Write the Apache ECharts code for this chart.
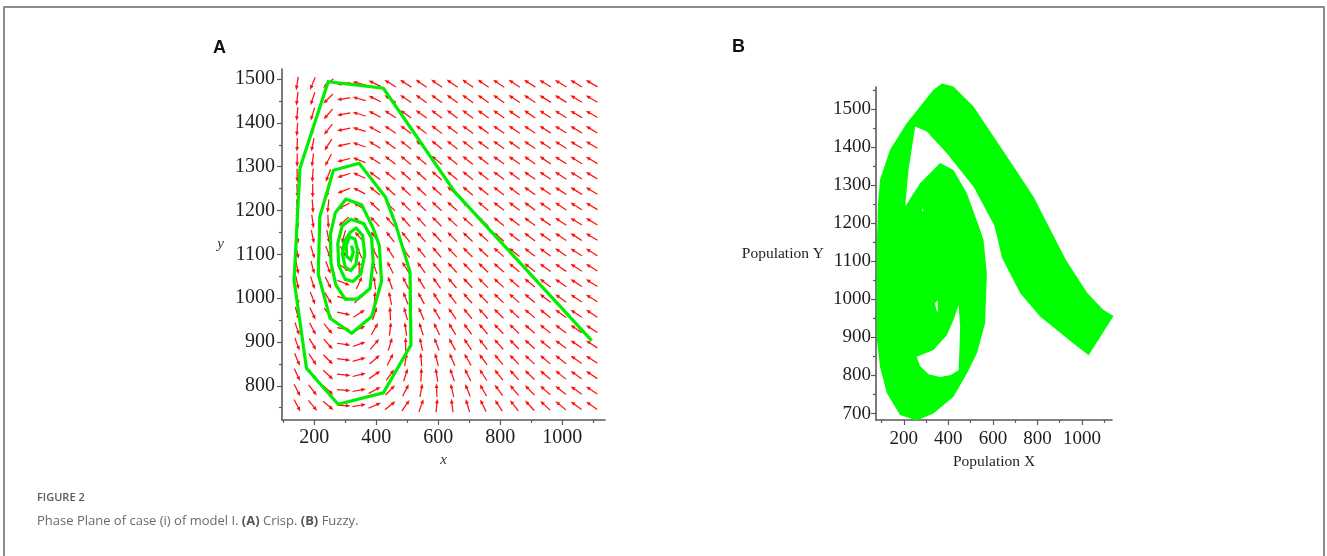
<!DOCTYPE html>
<html>
<head>
<meta charset="utf-8">
<script src="https://cdn.jsdelivr.net/npm/echarts@6/dist/echarts.min.js"></script>
<style>
  html, body { margin: 0; padding: 0; background: #ffffff; }
  #chart { width: 1327px; height: 556px; }
</style>
</head>
<body>
<div id="chart"></div>
<script>
// ---- Panel A (crisp): direction-field grid ----
const fieldX = [145, 195, 245, 295, 345, 395, 445, 495, 545, 595, 645, 695, 745, 795, 845, 895, 945, 995, 1045, 1095];
const fieldY = [1490, 1455, 1420, 1385, 1350, 1315, 1280, 1245, 1210, 1175, 1140, 1105, 1070, 1035, 1000, 965, 930, 895, 860, 825, 790, 755];
// arrow heading on screen, degrees counter-clockwise from +x; one row per fieldY value
const fieldAngles = [
  [261, 248, 222, 188, 166, 155, 149, 147, 145, 145, 145, 145, 145, 146, 146, 147, 148, 148, 149, 150],
  [263, 251, 225, 189, 165, 154, 148, 146, 144, 144, 144, 144, 145, 145, 146, 147, 148, 148, 149, 150],
  [264, 253, 229, 190, 164, 152, 147, 145, 144, 143, 143, 143, 144, 145, 146, 146, 147, 148, 149, 150],
  [266, 256, 232, 191, 163, 151, 146, 143, 142, 142, 143, 143, 144, 145, 145, 146, 147, 148, 149, 149],
  [268, 259, 237, 192, 161, 149, 144, 142, 141, 141, 142, 142, 143, 144, 145, 146, 147, 147, 149, 149],
  [269, 263, 242, 194, 159, 147, 142, 140, 140, 140, 141, 141, 142, 144, 145, 145, 146, 147, 148, 149],
  [271, 266, 249, 197, 156, 144, 140, 139, 139, 139, 140, 141, 142, 143, 144, 145, 146, 147, 148, 149],
  [273, 270, 256, 201, 153, 141, 138, 137, 137, 138, 139, 140, 141, 143, 144, 145, 146, 147, 148, 149],
  [275, 274, 264, 208, 148, 137, 135, 135, 135, 137, 138, 139, 140, 142, 143, 144, 145, 146, 148, 149],
  [278, 278, 273, 222, 141, 133, 131, 132, 133, 135, 137, 138, 139, 141, 143, 144, 145, 146, 148, 149],
  [280, 282, 282, 254, 131, 127, 127, 129, 131, 133, 135, 137, 138, 140, 142, 143, 145, 146, 147, 149],
  [283, 287, 291, 300, 114, 119, 123, 126, 129, 131, 133, 135, 137, 139, 141, 142, 144, 145, 147, 148],
  [281, 285, 291, 327, 90, 110, 117, 122, 126, 129, 132, 134, 136, 139, 140, 142, 144, 145, 147, 148],
  [282, 288, 297, 338, 65, 98, 110, 117, 122, 126, 130, 133, 135, 138, 139, 141, 143, 145, 147, 148],
  [284, 291, 302, 344, 46, 86, 102, 112, 118, 123, 127, 131, 134, 136, 139, 140, 143, 144, 146, 148],
  [286, 295, 306, 348, 33, 72, 93, 105, 113, 120, 125, 129, 132, 135, 138, 140, 142, 144, 146, 147],
  [289, 297, 309, 350, 25, 60, 83, 98, 108, 116, 121, 126, 130, 134, 136, 139, 141, 143, 146, 147],
  [291, 300, 312, 352, 20, 49, 73, 90, 102, 111, 118, 124, 128, 132, 135, 138, 141, 143, 145, 147],
  [293, 303, 315, 353, 16, 41, 63, 81, 95, 105, 114, 120, 126, 130, 134, 137, 140, 142, 145, 147],
  [295, 306, 317, 354, 14, 34, 54, 72, 87, 99, 109, 117, 123, 128, 132, 136, 139, 141, 144, 146],
  [297, 308, 319, 355, 11, 28, 46, 63, 79, 92, 103, 112, 120, 126, 130, 134, 138, 141, 144, 146],
  [298, 310, 320, 356, 10, 24, 39, 55, 70, 84, 97, 107, 116, 123, 128, 133, 137, 140, 143, 145]
];

// ---- Panel A: crisp trajectory, spiralling in to the equilibrium ----
const crispX = [1095, 654, 423, 245, 154, 135, 175, 277, 423, 512, 509, 462, 430,
  345, 262, 218, 213, 251, 321, 385, 417, 410, 390, 353,
  302, 268, 252, 254, 270, 300, 340, 380, 390, 385, 360,
  318, 290, 276, 279, 300, 325, 350, 363, 356, 335,
  316, 297, 291, 300, 318, 335, 340, 331, 314, 303, 305, 318, 326, 320];
const crispY = [903, 1242, 1479, 1494, 1297, 1041, 840, 758, 784, 893, 1060, 1170, 1230,
  1308, 1292, 1186, 1055, 954, 920, 958, 1038, 1120, 1160, 1213,
  1226, 1195, 1145, 1080, 1030, 998, 998, 1022, 1085, 1137, 1170,
  1180, 1165, 1125, 1075, 1043, 1038, 1055, 1100, 1143, 1160,
  1150, 1130, 1100, 1071, 1063, 1078, 1110, 1135, 1140, 1120, 1095, 1087, 1105, 1120];

// ---- Panel B (fuzzy): envelope of the trajectory band and its gaps ----
const fuzzyOutline = [
  [258, 682], [183, 696], [124, 753], [93, 823], [79, 893], [78, 1000], [79, 1150], [84, 1250], [93, 1314],
  [138, 1393], [213, 1463], [273, 1507], [333, 1551], [371, 1567], [423, 1559], [513, 1507], [603, 1428],
  [693, 1349], [782, 1270], [848, 1195], [929, 1103], [1024, 1017], [1097, 972], [1142, 956],
  [1030, 853], [962, 884], [813, 954], [723, 1016], [640, 1110], [625, 1150], [606, 1195], [513, 1296],
  [393, 1384], [303, 1441], [251, 1454], [221, 1340], [206, 1244], [273, 1305], [363, 1358], [423, 1340],
  [483, 1279], [543, 1182], [558, 1156], [573, 1068], [565, 937], [528, 858], [483, 805], [423, 744], [333, 700]
];
const fuzzyGapLower = [
  [258, 849], [333, 867], [393, 906], [423, 946], [446, 985], [453, 928], [450, 870], [446, 814],
  [411, 801], [363, 796], [311, 803], [273, 825]
];
const fuzzyGapSmall = [[340, 990], [352, 998], [353, 966], [346, 972]];
const fuzzyGapSpeck = [[281, 1232], [286, 1241], [288, 1230]];

// ---- Axis ticks ----
const ticksXMajor = [200, 400, 600, 800, 1000];
const ticksXMinor = [100, 300, 500, 700, 900, 1100];
const ticksAYMajor = [800, 900, 1000, 1100, 1200, 1300, 1400, 1500];
const ticksAYMinor = [750, 850, 950, 1050, 1150, 1250, 1350, 1450];
const ticksBYMajor = [700, 800, 900, 1000, 1100, 1200, 1300, 1400, 1500];
const ticksBYMinor = [750, 850, 950, 1050, 1150, 1250, 1350, 1450, 1550];

const GREEN = '#00ee00';
const FILL_GREEN = '#00ff00';
const RED = '#ff1010';
const AXIS_COLOR = '#5a5a5a';
const SERIF = '"Liberation Serif", "Times New Roman", serif';

const chart = echarts.init(document.getElementById('chart'), null, { renderer: 'canvas' });

function plainNumber(v) { return String(v); }

function majorAxis(grid, min, max, ticks, fontSize, margin, extra) {
  return Object.assign({
    type: 'value', gridIndex: grid, min: min, max: max,
    axisLine: { show: true, onZero: false, lineStyle: { color: AXIS_COLOR, width: 1.6 } },
    axisTick: { show: true, customValues: ticks, length: 5, lineStyle: { color: AXIS_COLOR, width: 1.2 } },
    axisLabel: { show: true, customValues: ticks, margin: margin, color: '#1e1e1e',
      fontFamily: SERIF, fontSize: fontSize, formatter: plainNumber },
    splitLine: { show: false }
  }, extra || {});
}
function minorAxis(grid, min, max, ticks, position) {
  return {
    type: 'value', gridIndex: grid, min: min, max: max, position: position,
    axisLine: { show: false, onZero: false },
    axisTick: { show: true, customValues: ticks, length: 3, lineStyle: { color: AXIS_COLOR, width: 1.2 } },
    axisLabel: { show: false },
    splitLine: { show: false }
  };
}

// arrow data: [x, y, heading]
const arrowData = [];
fieldY.forEach(function (yv, j) {
  fieldX.forEach(function (xv, k) {
    arrowData.push([xv, yv, fieldAngles[j][k]]);
  });
});

const ARROW_LEN = 13.5;
function renderArrow(params, api) {
  const c = api.coord([api.value(0), api.value(1)]);
  const a = api.value(2) * Math.PI / 180;
  const ux = Math.cos(a), uy = -Math.sin(a);
  const h = ARROW_LEN / 2;
  const x0 = c[0] - ux * h, y0 = c[1] - uy * h;
  const x1 = c[0] + ux * h, y1 = c[1] + uy * h;
  const hl = 4.6, hw = 1.9;
  const bx = x1 - ux * hl, by = y1 - uy * hl;
  const px = -uy, py = ux;
  return {
    type: 'group',
    children: [
      { type: 'line', shape: { x1: x0, y1: y0, x2: bx + ux * 1, y2: by + uy * 1 }, style: { stroke: RED, lineWidth: 1.25 } },
      { type: 'polygon', shape: { points: [[x1, y1], [bx + px * hw, by + py * hw], [bx - px * hw, by - py * hw]] },
        style: { fill: RED } }
    ]
  };
}

const fuzzyRings = [fuzzyOutline, fuzzyGapLower, fuzzyGapSmall, fuzzyGapSpeck];
function renderRing(params, api) {
  const ring = fuzzyRings[params.dataIndex];
  return {
    type: 'polygon',
    shape: { points: ring.map(function (p) { return api.coord(p); }) },
    style: { fill: params.dataIndex === 0 ? FILL_GREEN : '#ffffff' }
  };
}

const option = {
  animation: false,
  backgroundColor: '#ffffff',
  grid: [
    { left: 282, top: 69, width: 323, height: 351 },
    { left: 876, top: 87, width: 236, height: 333 }
  ],
  xAxis: [
    majorAxis(0, 96, 1138, ticksXMajor, 20, 8, {
      position: 'bottom', name: 'x', nameLocation: 'middle', nameGap: 30,
      nameTextStyle: { fontFamily: SERIF, fontStyle: 'italic', fontSize: 15, color: '#333' }
    }),
    minorAxis(0, 96, 1138, ticksXMinor, 'bottom'),
    majorAxis(1, 75, 1135, ticksXMajor, 19, 10, {
      position: 'bottom', name: 'Population X', nameLocation: 'middle', nameGap: 28,
      nameTextStyle: { fontFamily: SERIF, fontSize: 15.5, color: '#1e1e1e' }
    }),
    minorAxis(1, 75, 1135, ticksXMinor, 'bottom')
  ],
  yAxis: [
    majorAxis(0, 722, 1523, ticksAYMajor, 20, 7, {
      position: 'left', name: 'y', nameLocation: 'middle', nameGap: 58, nameRotate: 0,
      nameTextStyle: { fontFamily: SERIF, fontStyle: 'italic', fontSize: 15, color: '#333' }
    }),
    minorAxis(0, 722, 1523, ticksAYMinor, 'left'),
    majorAxis(1, 683, 1558, ticksBYMajor, 19, 5, {
      position: 'left', name: 'Population Y', nameLocation: 'middle', nameGap: 52, nameRotate: 0,
      nameTextStyle: { fontFamily: SERIF, fontSize: 15.5, color: '#1e1e1e' }
    }),
    minorAxis(1, 683, 1558, ticksBYMinor, 'left')
  ],
  series: [
    {
      type: 'custom', name: 'direction field', xAxisIndex: 0, yAxisIndex: 0,
      data: arrowData, encode: { x: 0, y: 1 }, renderItem: renderArrow, silent: true, z: 2
    },
    {
      type: 'line', name: 'crisp trajectory', xAxisIndex: 0, yAxisIndex: 0,
      data: crispX.map(function (v, i) { return [v, crispY[i]]; }),
      showSymbol: false, symbol: 'none', silent: true, z: 3,
      lineStyle: { color: GREEN, width: 3.2, join: 'miter' }
    },
    {
      type: 'custom', name: 'fuzzy band', xAxisIndex: 2, yAxisIndex: 2,
      data: fuzzyRings.map(function (r, i) { return [r[0][0], r[0][1], i]; }),
      encode: { x: 0, y: 1 }, renderItem: renderRing, silent: true, z: 2, clip: false
    }
  ],
  graphic: [
    { type: 'rect', shape: { x: 4, y: 7, width: 1320, height: 620 },
      style: { fill: 'none', stroke: '#8c8c8c', lineWidth: 2 }, silent: true },
    { type: 'text', x: 213, y: 48, style: { text: 'A', fontFamily: '"Liberation Sans", Arial, sans-serif',
      fontWeight: 'bold', fontSize: 18, fill: '#111', verticalAlign: 'middle' } },
    { type: 'text', x: 732, y: 47, style: { text: 'B', fontFamily: '"Liberation Sans", Arial, sans-serif',
      fontWeight: 'bold', fontSize: 18, fill: '#111', verticalAlign: 'middle' } },
    { type: 'text', x: 37, y: 498, style: { text: 'FIGURE 2', fontFamily: '"Open Sans", sans-serif',
      fontWeight: 600, fontSize: 11, fill: '#5a5a5a', verticalAlign: 'middle' } },
    { type: 'text', x: 37, y: 521, style: {
      text: 'Phase Plane of case (i) of model I. {b|(A)} Crisp. {b|(B)} Fuzzy.',
      fontFamily: '"Open Sans", sans-serif', fontSize: 13, fill: '#6a6a6a', verticalAlign: 'middle',
      rich: { b: { fontFamily: '"Open Sans", sans-serif', fontSize: 13, fontWeight: 'bold', fill: '#555' } }
    } }
  ]
};

chart.setOption(option);
</script>
</body>
</html>
